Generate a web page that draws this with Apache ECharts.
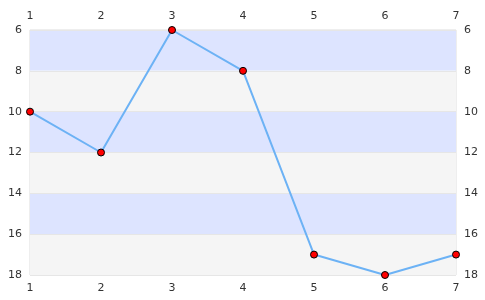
<!DOCTYPE html>
<html><head><meta charset="utf-8">
<script src="https://cdn.jsdelivr.net/npm/echarts@6/dist/echarts.min.js"></script>
<style>html,body{margin:0;padding:0;background:#fff}#c{width:485px;height:300px}</style>
</head><body><div id="c"></div>
<script>
const xValues = [1, 2, 3, 4, 5, 6, 7];
const yValues = [10, 12, 6, 8, 17, 18, 17];
const data = xValues.map((x, i) => [x, yValues[i]]);
const chart = echarts.init(document.getElementById('c'), null, {renderer: 'canvas'});
const lbl = {color: '#333', fontSize: 11, fontFamily: 'DejaVu Sans'};
const xAxisBase = {type: 'value', min: 1, max: 7, interval: 1, axisLine: {show: false}, axisTick: {show: false}, splitLine: {show: false}};
const yAxisBase = {type: 'value', min: 6, max: 18, interval: 2, inverse: true, axisLine: {show: false}, axisTick: {show: false}};
chart.setOption({
  animation: false,
  grid: {left: 30, right: 29, top: 30, bottom: 25, show: true, borderColor: '#ddd', borderWidth: 1, backgroundColor: 'transparent'},
  xAxis: [
    Object.assign({position: 'bottom', axisLabel: Object.assign({margin: 8}, lbl)}, xAxisBase),
    Object.assign({position: 'top', axisLabel: Object.assign({margin: 8}, lbl)}, xAxisBase)
  ],
  yAxis: [
    Object.assign({position: 'left', axisLabel: Object.assign({margin: 8}, lbl),
      splitLine: {show: true, lineStyle: {color: '#e6e6e6'}},
      splitArea: {show: true, areaStyle: {color: ['#dde4ff', '#f5f5f5']}}}, yAxisBase),
    Object.assign({position: 'right', axisLabel: Object.assign({margin: 8}, lbl), splitLine: {show: false}}, yAxisBase)
  ],
  series: [{
    type: 'line', data: data, xAxisIndex: 0, yAxisIndex: 0,
    lineStyle: {color: '#6cb2f5', width: 2},
    symbol: 'circle', symbolSize: 7,
    itemStyle: {color: '#ff0000', borderColor: '#000', borderWidth: 1}
  }]
});
</script></body></html>
